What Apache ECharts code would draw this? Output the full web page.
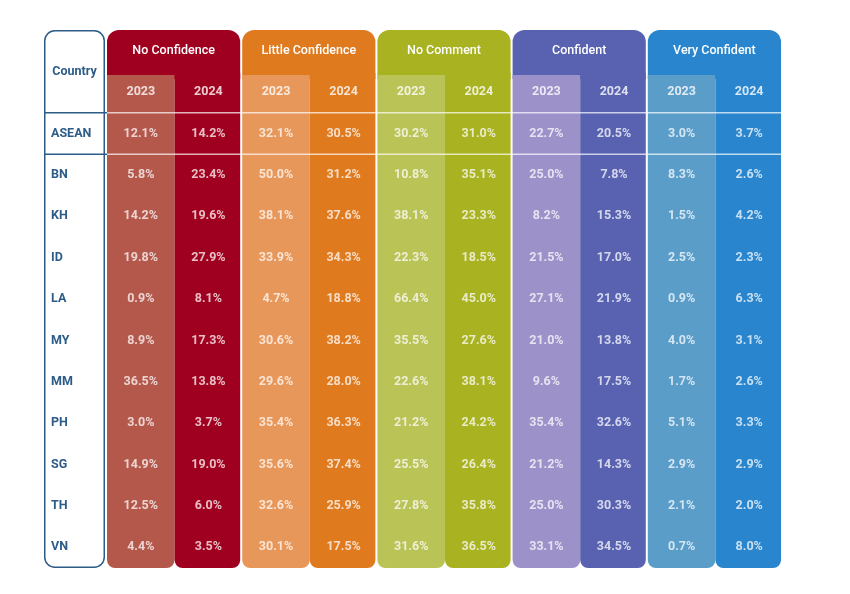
<!DOCTYPE html>
<html><head><meta charset="utf-8">
<script src="https://cdn.jsdelivr.net/npm/echarts@6/dist/echarts.min.js"></script>
<style>html,body{margin:0;padding:0;background:#fff}#c{width:850px;height:594px}</style>
</head><body><div id="c"></div>
<script>
const groups = ['No Confidence','Little Confidence','No Comment','Confident','Very Confident'];
const years = ['2023','2024'];
const countries = ['ASEAN','BN','KH','ID','LA','MY','MM','PH','SG','TH','VN'];
const noConfidence2023 = [12.1,5.8,14.2,19.8,0.9,8.9,36.5,3.0,14.9,12.5,4.4];
const noConfidence2024 = [14.2,23.4,19.6,27.9,8.1,17.3,13.8,3.7,19.0,6.0,3.5];
const littleConfidence2023 = [32.1,50.0,38.1,33.9,4.7,30.6,29.6,35.4,35.6,32.6,30.1];
const littleConfidence2024 = [30.5,31.2,37.6,34.3,18.8,38.2,28.0,36.3,37.4,25.9,17.5];
const noComment2023 = [30.2,10.8,38.1,22.3,66.4,35.5,22.6,21.2,25.5,27.8,31.6];
const noComment2024 = [31.0,35.1,23.3,18.5,45.0,27.6,38.1,24.2,26.4,35.8,36.5];
const confident2023 = [22.7,25.0,8.2,21.5,27.1,21.0,9.6,35.4,21.2,25.0,33.1];
const confident2024 = [20.5,7.8,15.3,17.0,21.9,13.8,17.5,32.6,14.3,30.3,34.5];
const veryConfident2023 = [3.0,8.3,1.5,2.5,0.9,4.0,1.7,5.1,2.9,2.1,0.7];
const veryConfident2024 = [3.7,2.6,4.2,2.3,6.3,3.1,2.6,3.3,2.9,2.0,8.0];

const darkColors = ['#a0001f','#e07a1f','#a9b221','#5862b0','#2885ce'];
const lightColors = ['#b5584c','#e8975a','#bac356','#9d91c9','#5a9dc9'];
const navy = '#2d5c88';
const FONT = 'Roboto';

const columnValues = [noConfidence2023,noConfidence2024,littleConfidence2023,littleConfidence2024,
  noComment2023,noComment2024,confident2023,confident2024,veryConfident2023,veryConfident2024];
const columnKeys = [];
groups.forEach(g => years.forEach(y => columnKeys.push(g + ' ' + y)));
const rowKeys = ['group','year'].concat(countries);

const valueData = [];
columnValues.forEach((arr, c) => arr.forEach((v, r) => valueData.push([c, r + 2, v])));
const yearData = columnKeys.map((k, c) => [c, 1, years[c % 2]]);

const chart = echarts.init(document.getElementById('c'), null, {renderer: 'canvas'});
const hidden = {show: false};
chart.setOption({
  animation: false,
  backgroundColor: '#ffffff',
  grid: [
    {left: 107, right: 67, top: 30, bottom: 26},
    {left: 44, width: 61, top: 30, bottom: 26}
  ],
  xAxis: [
    {type: 'category', data: columnKeys, gridIndex: 0, axisLine: hidden, axisTick: hidden, axisLabel: hidden, splitLine: hidden},
    {type: 'category', data: ['Country'], gridIndex: 1, axisLine: hidden, axisTick: hidden, axisLabel: hidden, splitLine: hidden}
  ],
  yAxis: [
    {type: 'category', data: rowKeys, inverse: true, gridIndex: 0, axisLine: hidden, axisTick: hidden, axisLabel: hidden, splitLine: hidden},
    {type: 'category', data: rowKeys, inverse: true, gridIndex: 1, axisLine: hidden, axisTick: hidden, axisLabel: hidden, splitLine: hidden}
  ],
  series: [
    {
      type: 'custom', xAxisIndex: 0, yAxisIndex: 0, z: 1,
      data: columnKeys.map((k, c) => [c, 0]),
      renderItem: function (params, api) {
        const c = api.value(0);
        const p = api.coord([c, 0]);
        const bw = api.size([1, 0])[0];
        const rh = api.size([0, 1])[1];
        const top = p[1] - rh / 2;
        const bottom = api.coord([c, 12])[1] + rh / 2;
        const xL = p[0] - bw / 2;
        const hb = top + rh * 1.09;
        const g = Math.floor(c / 2);
        const ch = [];
        if (c % 2 === 0) {
          ch.push({type: 'rect', shape: {x: xL, y: top, width: 2 * bw - 2, height: hb - top + 4, r: [12, 12, 0, 0]}, style: {fill: darkColors[g]}});
          ch.push({type: 'rect', shape: {x: xL, y: hb, width: bw, height: bottom - hb, r: [0, 0, 8, 8]}, style: {fill: lightColors[g]}});
          ch.push({type: 'text', x: xL + bw - 1, y: p[1], style: {text: groups[g], fill: '#ffffff', font: '500 12.5px ' + FONT, align: 'center', verticalAlign: 'middle'}});
        } else {
          ch.push({type: 'rect', shape: {x: xL, y: hb - 2, width: bw - 2, height: bottom - hb + 2, r: [0, 0, 8, 8]}, style: {fill: darkColors[g]}});
        }
        return {type: 'group', children: ch};
      }
    },
    {
      type: 'custom', xAxisIndex: 0, yAxisIndex: 0, z: 2,
      data: [[0, 1], [0, 2]],
      renderItem: function (params, api) {
        const r = api.value(1);
        const bw = api.size([1, 0])[0];
        const rh = api.size([0, 1])[1];
        const y = api.coord([0, r])[1] + rh / 2;
        const x1 = api.coord([0, r])[0] - bw / 2;
        const x2 = api.coord([9, r])[0] + bw / 2 - 2;
        return {type: 'line', shape: {x1: x1, y1: y, x2: x2, y2: y}, style: {stroke: 'rgba(255,255,255,0.7)', lineWidth: 1.5}};
      }
    },
    {
      type: 'scatter', xAxisIndex: 0, yAxisIndex: 0, z: 3, symbolSize: 0, silent: true,
      data: yearData,
      label: {show: true, position: 'inside', formatter: d => d.value[2], color: '#ffffff', fontFamily: FONT, fontWeight: 'bold', fontSize: 12.5}
    },
    {
      type: 'scatter', xAxisIndex: 0, yAxisIndex: 0, z: 3, symbolSize: 0, silent: true,
      data: valueData,
      label: {show: true, position: 'inside', formatter: d => d.value[2].toFixed(1) + '%', color: 'rgba(255,255,255,0.93)', fontFamily: FONT, fontWeight: 'bold', fontSize: 12.5}
    },
    {
      type: 'custom', xAxisIndex: 1, yAxisIndex: 1, z: 2,
      data: [[0, 0]],
      renderItem: function (params, api) {
        const p = api.coord([0, 0]);
        const bw = api.size([1, 0])[0];
        const rh = api.size([0, 1])[1];
        const top = p[1] - rh / 2;
        const bottom = api.coord([0, 12])[1] + rh / 2;
        const xL = p[0] - bw / 2;
        const y1 = api.coord([0, 1])[1] + rh / 2;
        const y2 = api.coord([0, 2])[1] + rh / 2;
        return {type: 'group', children: [
          {type: 'rect', shape: {x: xL + 0.75, y: top + 0.75, width: bw - 1.5, height: bottom - top - 1.5, r: 10}, style: {fill: '#ffffff', stroke: navy, lineWidth: 1.5}},
          {type: 'line', shape: {x1: xL, y1: y1, x2: xL + bw + 2, y2: y1}, style: {stroke: navy, lineWidth: 1.5}},
          {type: 'line', shape: {x1: xL, y1: y2, x2: xL + bw + 2, y2: y2}, style: {stroke: navy, lineWidth: 1.5}},
          {type: 'text', x: p[0], y: top + rh, style: {text: 'Country', fill: navy, font: 'bold 12.5px ' + FONT, align: 'center', verticalAlign: 'middle'}}
        ]};
      }
    },
    {
      type: 'custom', xAxisIndex: 1, yAxisIndex: 1, z: 3,
      data: countries.map((n, i) => [0, i + 2, n]),
      renderItem: function (params, api) {
        const p = api.coord([0, api.value(1)]);
        const bw = api.size([1, 0])[0];
        return {type: 'text', x: p[0] - bw / 2 + 7, y: p[1], style: {text: countries[params.dataIndex], fill: navy, font: 'bold 12.5px ' + FONT, align: 'left', verticalAlign: 'middle'}};
      }
    }
  ]
});
</script></body></html>
